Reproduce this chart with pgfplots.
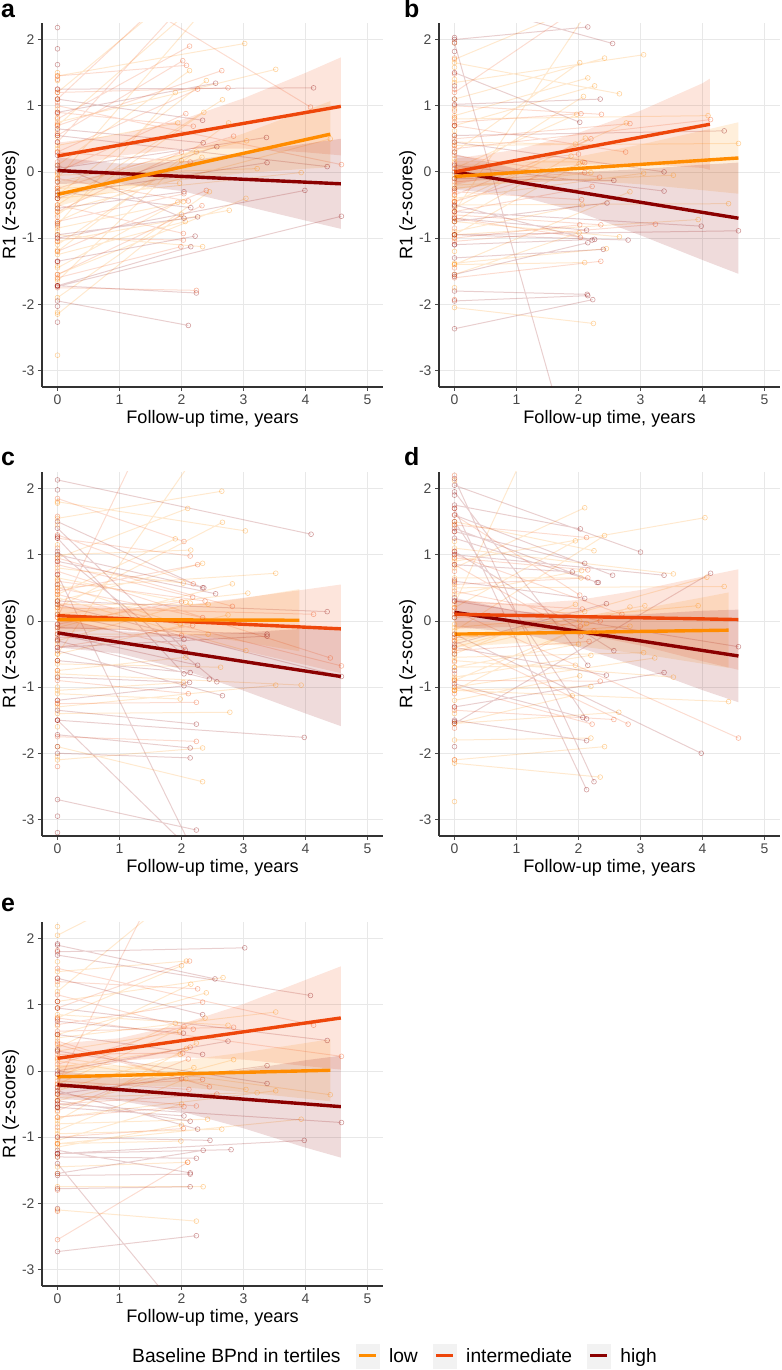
\documentclass[border=0pt]{standalone}
\usepackage{fontspec}
\setmainfont{Liberation Sans}
\usepackage{pgfplots}
\pgfplotsset{compat=1.18}
\definecolor{lowc}{RGB}{255,140,0}
\definecolor{midc}{RGB}{238,70,10}
\definecolor{highc}{RGB}{139,0,0}
\newcommand\ticksize{\fontsize{14}{16}\selectfont}
\newcommand\titlesize{\fontsize{18.2}{21}\selectfont}
\newcommand\legsize{\fontsize{19.3}{22}\selectfont}
\newcommand\panelsize{\fontsize{25}{28}\selectfont\bfseries}
\pgfplotsset{
 panel/.style={
  scale only axis, width=341bp, height=364bp, anchor=south west,
  xmin=-0.25, xmax=5.25, ymin=-3.25, ymax=2.25,
  xtick={0,1,2,3,4,5}, ytick={-3,-2,-1,0,1,2},
  xticklabels={0,1,2,3,4,5}, yticklabels={-3,-2,-1,0,1,2},
  axis x line=bottom, axis y line=left,
  axis line style={-, draw=black!80, line width=1.1bp},
  every outer x axis line/.append style={-}, every outer y axis line/.append style={-},
  tick align=outside, major tick length=4bp, tick style={black!70, line width=0.8bp},
  grid=major, major grid style={black!9, line width=0.7bp},
  xlabel={Follow-up time, years}, ylabel={R1 (z-scores)},
  tick label style={font=\ticksize, text=black!72},
  label style={font=\titlesize},
  xlabel style={at={(axis description cs:0.5,-0.088)}, anchor=center},
  ylabel style={at={(axis description cs:-0.0915,0.5)}, anchor=center, inner sep=0pt},
 },
 spag/.style={color=#1, line width=1.0bp, draw opacity=0.19, mark=o, mark size=2.4bp,
   mark options={draw opacity=0.38, line width=0.6bp}, unbounded coords=jump, forget plot},
 band/.style={fill=#1, fill opacity=0.14, draw=none, forget plot},
 reg/.style={color=#1, line width=3.4bp, no markers, forget plot},
}
\begin{document}
\begin{tikzpicture}[x=1bp,y=1bp]
\path[use as bounding box] (0bp,0bp) rectangle (782bp,1370bp);
% ---------------- panel a ----------------
\begin{axis}[panel, at={(42bp,983bp)}]
\addplot[spag=lowc] coordinates {
(0,1.45) (3.02,1.94) (nan,nan) (0,0.10) (2.13,1.53) (nan,nan) (0,0.75) (3.52,1.55) (nan,nan)
(0,-0.35) (2.40,1.38) (nan,nan) (0,-0.80) (1.90,1.20) (nan,nan) (0,-0.50) (2.66,1.09) (nan,nan)
(0,-0.65) (2.36,0.90) (nan,nan) (0,0.40) (1.94,0.74) (nan,nan) (0,-1.20) (2.76,0.74) (nan,nan)
(0,-0.60) (4.40,0.50) (nan,nan) (0,-0.15) (3.05,0.47) (nan,nan) (0,-1.10) (2.24,0.30) (nan,nan)
(0,-0.75) (2.33,0.22) (nan,nan) (0,-1.65) (2.00,0.17) (nan,nan) (0,-0.05) (3.22,0.05) (nan,nan)
(0,-0.40) (3.93,-0.01) (nan,nan) (0,-0.25) (1.97,-0.17) (nan,nan) (0,-1.90) (2.45,-0.30) (nan,nan)
(0,-1.55) (3.04,-0.40) (nan,nan) (0,-1.45) (1.94,-0.46) (nan,nan) (0,-0.85) (2.03,-0.45) (nan,nan)
(0,-1.05) (2.77,-0.58) (nan,nan) (0,-2.15) (2.00,-0.64) (nan,nan) (0,-1.25) (2.06,-0.75) (nan,nan)
(0,-0.95) (2.34,-1.13) (nan,nan) (0,-0.10) (2.50,2.60) (nan,nan) (0,0.70) (2.70,2.90) (nan,nan)
(0,1.20) (1.80,2.60) (nan,nan)
};
\addplot[spag=lowc, only marks] coordinates {(0,1.50) (0,1.38) (0,0.95) (0,0.62) (0,0.35) (0,-0.55) (0,-1.62) (0,-2.77) (0,-2.12) (0,1.10) (0,0.82) (0,0.52) (0,-0.02) (0,-0.30) (0,-0.90) (0,-1.18) (0,-1.42)};
\addplot[spag=midc] coordinates {
(0,0.80) (2.13,1.90) (nan,nan) (0,0.55) (2.02,1.68) (nan,nan) (0,1.45) (2.08,1.61) (nan,nan)
(0,0.70) (2.65,1.53) (nan,nan) (0,0.30) (2.26,1.25) (nan,nan) (0,1.20) (2.75,1.27) (nan,nan)
(0,3.30) (4.08,0.98) (nan,nan) (0,0.00) (2.07,0.88) (nan,nan) (0,0.90) (2.19,0.69) (nan,nan)
(0,-0.25) (2.84,0.54) (nan,nan) (0,1.00) (4.58,0.11) (nan,nan) (0,-0.60) (2.00,0.30) (nan,nan)
(0,0.30) (2.14,0.15) (nan,nan) (0,-0.75) (2.04,-0.33) (nan,nan) (0,-1.20) (2.40,-0.28) (nan,nan)
(0,-0.10) (2.11,-0.44) (nan,nan) (0,-1.55) (2.33,-0.51) (nan,nan) (0,-1.00) (2.03,-1.03) (nan,nan)
(0,-1.60) (1.99,-1.13) (nan,nan) (0,-1.75) (2.24,-1.79) (nan,nan) (0,-0.50) (2.03,-0.93) (nan,nan)
(0,0.45) (2.20,2.70) (nan,nan) (0,1.10) (1.60,2.50) (nan,nan)
};
\addplot[spag=midc, only marks] coordinates {(0,1.25) (0,1.05) (0,0.72) (0,0.15) (0,-0.22) (0,-0.68) (0,-1.35) (0,-1.72) (0,1.40) (0,0.88) (0,0.58) (0,-0.40) (0,-0.82) (0,-1.05)};
\addplot[spag=highc] coordinates {
(0,0.90) (2.55,1.34) (nan,nan) (0,1.25) (4.13,1.27) (nan,nan) (0,1.10) (2.34,0.78) (nan,nan)
(0,0.65) (2.35,0.44) (nan,nan) (0,0.05) (3.37,0.52) (nan,nan) (0,-0.35) (3.38,0.14) (nan,nan)
(0,0.55) (4.35,0.08) (nan,nan) (0,-0.55) (2.04,-0.30) (nan,nan) (0,-1.00) (3.99,-0.28) (nan,nan)
(0,-0.30) (2.15,-0.54) (nan,nan) (0,0.10) (2.04,-0.70) (nan,nan) (0,-0.95) (2.26,-0.68) (nan,nan)
(0,-1.35) (2.22,-0.97) (nan,nan) (0,-1.72) (2.15,-1.13) (nan,nan) (0,-1.73) (4.58,-0.67) (nan,nan)
(0,-1.72) (2.24,-1.83) (nan,nan) (0,-1.95) (2.11,-2.32) (nan,nan) (0,-0.40) (2.57,0.38) (nan,nan)
};
\addplot[spag=highc, only marks] coordinates {(0,2.18) (0,1.86) (0,1.62) (0,-2.03) (0,-2.27) (0,-1.36) (0,0.25) (0,0.45) (0,-0.15) (0,-0.78)};
\addplot[band=lowc] coordinates {(0,-0.16) (1,0.007) (2,0.274) (3,0.58) (4,0.927) (4.4,1.07) (4.4,0.07) (4,0.047) (3,-0.02) (2,-0.126) (1,-0.273) (0,-0.52)};
\addplot[band=midc] coordinates {(0,0.44) (1,0.564) (2,0.788) (3,1.112) (4,1.496) (4.57,1.73) (4.57,0.25) (4,0.296) (3,0.352) (2,0.348) (1,0.244) (0,0.04)};
\addplot[band=highc] coordinates {(0,0.22) (1,0.126) (2,0.152) (3,0.289) (4,0.425) (4.57,0.50) (4.57,-0.86) (4,-0.735) (3,-0.511) (2,-0.288) (1,-0.174) (0,-0.18)};
\addplot[reg=highc] coordinates {(0,0.02) (4.57,-0.18)};
\addplot[reg=lowc] coordinates {(0,-0.34) (4.40,0.57)};
\addplot[reg=midc] coordinates {(0,0.24) (4.57,0.99)};
\end{axis}
% ---------------- panel b ----------------
\begin{axis}[panel, at={(439bp,983bp)}]
\addplot[spag=lowc] coordinates {
(0,1.10) (2.42,1.72) (nan,nan) (0,1.35) (3.05,1.77) (nan,nan) (0,0.30) (2.02,1.65) (nan,nan)
(0,0.85) (2.15,1.42) (nan,nan) (0,0.70) (2.26,1.30) (nan,nan) (0,-0.10) (2.08,1.14) (nan,nan)
(0,1.65) (2.66,1.18) (nan,nan) (0,0.05) (1.97,0.87) (nan,nan) (0,-0.45) (2.77,0.74) (nan,nan)
(0,0.80) (4.09,0.85) (nan,nan) (0,0.40) (4.58,0.43) (nan,nan) (0,-0.55) (2.11,0.51) (nan,nan)
(0,0.45) (1.95,0.42) (nan,nan) (0,-0.75) (1.88,0.24) (nan,nan) (0,0.15) (2.07,0.15) (nan,nan)
(0,-0.95) (2.01,0.12) (nan,nan) (0,-0.25) (2.20,-0.01) (nan,nan) (0,-0.40) (3.05,-0.02) (nan,nan)
(0,-0.20) (3.53,-0.05) (nan,nan) (0,-1.40) (2.83,-0.30) (nan,nan) (0,-0.90) (2.06,-0.50) (nan,nan)
(0,-0.50) (4.42,-0.48) (nan,nan) (0,-0.95) (3.93,-0.72) (nan,nan) (0,-1.55) (2.01,-0.92) (nan,nan)
(0,-0.75) (2.66,-0.98) (nan,nan) (0,-1.38) (2.45,-1.16) (nan,nan) (0,-1.40) (2.10,-1.37) (nan,nan)
(0,-2.05) (2.24,-2.29) (nan,nan) (0,1.70) (2.30,2.60) (nan,nan) (0,-0.60) (2.20,2.50) (nan,nan)
};
\addplot[spag=lowc, only marks] coordinates {(0,1.95) (0,1.58) (0,0.55) (0,-0.05) (0,-1.20) (0,-1.75) (0,1.40) (0,0.95) (0,0.62) (0,0.20) (0,-0.35) (0,-0.68) (0,-1.00)};
\addplot[spag=midc] coordinates {
(0,0.75) (2.04,0.88) (nan,nan) (0,1.00) (2.37,0.87) (nan,nan) (0,0.50) (2.83,0.73) (nan,nan)
(0,0.35) (4.13,0.79) (nan,nan) (0,-0.35) (2.20,0.50) (nan,nan) (0,0.05) (2.00,0.27) (nan,nan)
(0,-0.45) (2.10,0.14) (nan,nan) (0,0.70) (2.76,0.30) (nan,nan) (0,-0.15) (2.10,-0.01) (nan,nan)
(0,0.25) (2.34,-0.08) (nan,nan) (0,-0.60) (2.22,-0.22) (nan,nan) (0,-0.30) (2.05,-0.42) (nan,nan)
(0,-1.00) (2.02,-0.80) (nan,nan) (0,-0.65) (2.36,-0.80) (nan,nan) (0,-1.05) (3.24,-0.79) (nan,nan)
(0,-0.70) (2.03,-0.99) (nan,nan) (0,-1.60) (2.36,-1.35) (nan,nan) (0,1.20) (1.88,2.40) (nan,nan)
};
\addplot[spag=midc, only marks] coordinates {(0,1.72) (0,1.25) (0,0.92) (0,0.40) (0,-0.28) (0,-1.45) (0,-1.93) (0,1.48) (0,0.82) (0,0.12) (0,-0.45) (0,-0.85)};
\addplot[spag=highc] coordinates {
(0,2.00) (2.15,2.19) (nan,nan) (0,2.60) (2.55,1.94) (nan,nan) (0,1.02) (2.35,1.10) (nan,nan)
(0,1.50) (2.02,0.75) (nan,nan) (0,0.55) (4.35,0.62) (nan,nan) (0,0.45) (3.38,0.00) (nan,nan)
(0,-0.10) (2.57,-0.13) (nan,nan) (0,0.10) (3.38,-0.29) (nan,nan) (0,-0.75) (2.46,-0.47) (nan,nan)
(0,-0.60) (3.98,-0.82) (nan,nan) (0,-0.95) (4.58,-0.89) (nan,nan) (0,-0.70) (2.13,-0.88) (nan,nan)
(0,-0.50) (2.22,-1.03) (nan,nan) (0,-1.10) (2.26,-1.02) (nan,nan) (0,-1.55) (2.15,-1.07) (nan,nan)
(0,-0.95) (2.80,-1.03) (nan,nan) (0,-1.30) (2.40,-1.17) (nan,nan) (0,-1.80) (2.14,-1.85) (nan,nan)
(0,-1.95) (2.15,-1.87) (nan,nan) (0,-2.37) (2.23,-1.93) (nan,nan) (0,1.95) (2.10,-5.00) (nan,nan)
};
\addplot[spag=highc, only marks] coordinates {(0,2.03) (0,1.82) (0,1.10) (0,0.00) (0,-0.25) (0,-0.52) (0,-1.58) (0,-1.10) (0,1.30) (0,0.70) (0,0.30)};
\addplot[band=lowc] coordinates {(0,0.13) (1,0.131) (2,0.232) (3,0.413) (4,0.624) (4.58,0.75) (4.58,-0.33) (4,-0.276) (3,-0.187) (2,-0.128) (1,-0.149) (0,-0.27)};
\addplot[band=midc] coordinates {(0,0.2) (1,0.335) (2,0.59) (3,0.924) (4,1.339) (4.12,1.41) (4.12,0.03) (4,0.059) (3,0.124) (2,0.11) (1,0.015) (0,-0.2)};
\addplot[band=highc] coordinates {(0,0.27) (1,0.047) (2,-0.006) (3,0.042) (4,0.109) (4.58,0.14) (4.58,-1.54) (4,-1.331) (3,-0.958) (2,-0.606) (1,-0.353) (0,-0.27)};
\addplot[reg=highc] coordinates {(0,0.0) (4.58,-0.70)};
\addplot[reg=lowc] coordinates {(0,-0.07) (4.58,0.21)};
\addplot[reg=midc] coordinates {(0,0.0) (4.12,0.72)};
\end{axis}
% ---------------- panel c ----------------
\begin{axis}[panel, at={(42bp,534bp)}]
\addplot[spag=lowc] coordinates {
(0,1.55) (2.65,1.96) (nan,nan) (0,0.95) (2.10,1.70) (nan,nan) (0,0.20) (2.66,1.49) (nan,nan)
(0,1.80) (3.03,1.36) (nan,nan) (0,0.40) (1.90,1.24) (nan,nan) (0,1.00) (2.15,1.07) (nan,nan)
(0,0.30) (2.34,0.87) (nan,nan) (0,0.50) (3.52,0.72) (nan,nan) (0,0.80) (2.03,0.57) (nan,nan)
(0,-0.10) (2.82,0.56) (nan,nan) (0,0.10) (3.07,0.42) (nan,nan) (0,0.65) (2.07,0.28) (nan,nan)
(0,-0.30) (2.14,0.27) (nan,nan) (0,0.25) (2.43,0.25) (nan,nan) (0,-0.50) (2.75,0.09) (nan,nan)
(0,0.55) (1.98,-0.05) (nan,nan) (0,-0.20) (2.43,-0.20) (nan,nan) (0,-0.75) (2.07,-0.55) (nan,nan)
(0,0.35) (3.04,-0.45) (nan,nan) (0,-0.65) (2.63,-0.70) (nan,nan) (0,-1.05) (2.03,-0.93) (nan,nan)
(0,-1.30) (3.52,-0.97) (nan,nan) (0,-0.80) (3.93,-0.97) (nan,nan) (0,-1.10) (1.98,-1.18) (nan,nan)
(0,-1.40) (2.78,-1.38) (nan,nan) (0,-2.10) (2.34,-1.92) (nan,nan) (0,-1.90) (2.34,-2.43) (nan,nan)
(0,-0.50) (2.30,2.60) (nan,nan)
};
\addplot[spag=lowc, only marks] coordinates {(0,1.78) (0,1.45) (0,0.15) (0,-0.35) (0,-1.00) (0,-1.60) (0,-2.05) (0,1.15) (0,0.62) (0,0.45) (0,-0.60) (0,-0.85) (0,-1.25)};
\addplot[spag=midc] coordinates {
(0,1.85) (2.04,1.20) (nan,nan) (0,1.25) (2.14,0.98) (nan,nan) (0,0.45) (2.26,0.85) (nan,nan)
(0,1.30) (2.19,0.56) (nan,nan) (0,0.85) (2.18,0.36) (nan,nan) (0,-0.05) (2.00,0.29) (nan,nan)
(0,0.60) (2.38,0.30) (nan,nan) (0,0.95) (2.82,0.22) (nan,nan) (0,0.20) (4.13,0.10) (nan,nan)
(0,-0.40) (2.18,-0.07) (nan,nan) (0,0.50) (2.34,0.05) (nan,nan) (0,-0.25) (2.00,-0.22) (nan,nan)
(0,0.05) (2.04,-0.40) (nan,nan) (0,0.75) (4.40,-0.56) (nan,nan) (0,0.40) (4.58,-0.68) (nan,nan)
(0,-0.90) (2.11,-1.10) (nan,nan) (0,-1.25) (2.24,-1.23) (nan,nan) (0,-1.75) (2.24,-1.82) (nan,nan)
(0,0.05) (1.20,2.40) (nan,nan)
};
\addplot[spag=midc, only marks] coordinates {(0,1.58) (0,1.10) (0,0.70) (0,-0.60) (0,-1.20) (0,-1.50) (0,-2.20) (0,0.90) (0,0.30) (0,-0.15) (0,-0.75)};
\addplot[spag=highc] coordinates {
(0,2.13) (4.09,1.31) (nan,nan) (0,1.50) (2.34,0.50) (nan,nan) (0,1.00) (2.36,0.50) (nan,nan)
(0,0.90) (2.55,0.41) (nan,nan) (0,0.30) (4.35,0.14) (nan,nan) (0,0.10) (2.04,-0.28) (nan,nan)
(0,-0.10) (3.38,-0.20) (nan,nan) (0,-0.40) (3.38,-0.23) (nan,nan) (0,1.40) (2.06,-0.44) (nan,nan)
(0,0.25) (4.58,-0.84) (nan,nan) (0,-0.20) (2.26,-0.67) (nan,nan) (0,-0.60) (2.14,-0.78) (nan,nan)
(0,1.25) (2.04,-0.80) (nan,nan) (0,-0.30) (2.45,-0.88) (nan,nan) (0,1.05) (2.57,-0.92) (nan,nan)
(0,-0.85) (2.13,-0.93) (nan,nan) (0,-1.20) (2.04,-0.98) (nan,nan) (0,-0.45) (2.66,-1.13) (nan,nan)
(0,-1.35) (2.24,-1.56) (nan,nan) (0,-1.72) (2.14,-1.92) (nan,nan) (0,-1.50) (3.98,-1.76) (nan,nan)
(0,-2.00) (2.14,-2.07) (nan,nan) (0,-2.70) (2.24,-3.16) (nan,nan) (0,-1.50) (2.30,-3.60) (nan,nan)
(0,0.70) (2.20,-3.50) (nan,nan)
};
\addplot[spag=highc, only marks] coordinates {(0,1.98) (0,1.28) (0,-2.95) (0,-3.20) (0,-1.90) (0,-0.05) (0,0.55) (0,-0.28)};
\addplot[band=lowc] coordinates {(0,0.22) (1,0.157) (2,0.215) (3,0.342) (3.9,0.48) (3.9,-0.46) (3,-0.318) (2,-0.185) (1,-0.123) (0,-0.18)};
\addplot[band=midc] coordinates {(0,0.28) (1,0.196) (2,0.232) (3,0.349) (4,0.475) (4.57,0.55) (4.57,-0.79) (4,-0.665) (3,-0.451) (2,-0.248) (1,-0.124) (0,-0.12)};
\addplot[band=highc] coordinates {(0,0.04) (1,-0.154) (2,-0.209) (3,-0.173) (4,-0.118) (4.57,-0.09) (4.57,-1.59) (4,-1.398) (3,-1.053) (2,-0.729) (1,-0.494) (0,-0.40)};
\addplot[reg=highc] coordinates {(0,-0.18) (4.57,-0.84)};
\addplot[reg=midc] coordinates {(0,0.08) (4.57,-0.12)};
\addplot[reg=lowc] coordinates {(0,0.02) (3.9,0.01)};
\end{axis}
% ---------------- panel d ----------------
\begin{axis}[panel, at={(439bp,534bp)}]
\addplot[spag=lowc] coordinates {
(0,0.80) (2.10,1.71) (nan,nan) (0,0.90) (4.04,1.56) (nan,nan) (0,0.20) (1.95,1.21) (nan,nan)
(0,-0.15) (2.42,1.29) (nan,nan) (0,1.50) (2.25,1.06) (nan,nan) (0,0.40) (2.05,0.76) (nan,nan)
(0,0.65) (2.04,0.65) (nan,nan) (0,1.10) (3.53,0.71) (nan,nan) (0,-0.40) (4.07,0.66) (nan,nan)
(0,0.50) (4.35,0.52) (nan,nan) (0,-0.50) (1.95,0.25) (nan,nan) (0,0.05) (2.10,0.14) (nan,nan)
(0,-0.90) (2.83,0.21) (nan,nan) (0,-0.30) (3.07,0.23) (nan,nan) (0,-0.10) (3.93,0.23) (nan,nan)
(0,-0.45) (2.02,0.00) (nan,nan) (0,-1.05) (2.13,-0.04) (nan,nan) (0,-0.25) (2.83,-0.08) (nan,nan)
(0,-0.70) (2.00,-0.35) (nan,nan) (0,-0.85) (2.20,-0.52) (nan,nan) (0,-0.55) (3.05,-0.48) (nan,nan)
(0,-1.00) (3.23,-0.56) (nan,nan) (0,-0.70) (1.95,-0.67) (nan,nan) (0,-1.20) (2.02,-0.83) (nan,nan)
(0,-0.60) (3.53,-0.85) (nan,nan) (0,-1.05) (2.20,-0.99) (nan,nan) (0,-1.55) (1.90,-1.13) (nan,nan)
(0,-1.05) (4.42,-1.22) (nan,nan) (0,-1.55) (2.65,-1.38) (nan,nan) (0,-1.80) (2.20,-1.77) (nan,nan)
(0,-2.10) (2.42,-1.90) (nan,nan) (0,-2.15) (2.35,-2.36) (nan,nan) (0,0.25) (2.20,4.70) (nan,nan)
};
\addplot[spag=lowc, only marks] coordinates {(0,2.12) (0,1.20) (0,0.95) (0,-0.05) (0,-1.40) (0,-2.73) (0,1.45) (0,0.58) (0,-0.20) (0,-0.88)};
\addplot[spag=midc] coordinates {
(0,1.45) (2.13,1.26) (nan,nan) (0,0.95) (2.15,0.77) (nan,nan) (0,0.55) (2.15,0.65) (nan,nan)
(0,1.60) (2.02,0.39) (nan,nan) (0,0.30) (2.06,0.18) (nan,nan) (0,1.00) (2.70,0.10) (nan,nan)
(0,0.10) (2.03,-0.08) (nan,nan) (0,0.45) (2.35,0.00) (nan,nan) (0,-0.25) (2.25,-0.15) (nan,nan)
(0,0.85) (2.04,-0.23) (nan,nan) (0,-0.45) (2.17,-0.31) (nan,nan) (0,-0.90) (2.35,-0.91) (nan,nan)
(0,-1.35) (2.57,-1.49) (nan,nan) (0,-1.00) (2.22,-1.56) (nan,nan) (0,-0.30) (2.80,-1.56) (nan,nan)
(0,0.15) (4.58,-1.77) (nan,nan)
};
\addplot[spag=midc, only marks] coordinates {(0,2.20) (0,1.70) (0,1.35) (0,0.62) (0,-0.62) (0,-1.30) (0,-1.62) (0,-2.10) (0,1.05) (0,0.75) (0,0.20) (0,-0.38) (0,-0.80) (0,-1.10)};
\addplot[spag=highc] coordinates {
(0,1.75) (2.03,1.39) (nan,nan) (0,2.05) (3.00,1.04) (nan,nan) (0,1.35) (2.10,0.87) (nan,nan)
(0,0.85) (1.90,0.74) (nan,nan) (0,1.40) (2.30,0.58) (nan,nan) (0,1.25) (2.32,0.58) (nan,nan)
(0,1.60) (2.55,0.69) (nan,nan) (0,1.00) (3.38,0.69) (nan,nan) (0,-1.55) (4.13,0.72) (nan,nan)
(0,0.60) (2.10,0.34) (nan,nan) (0,-0.35) (2.45,0.26) (nan,nan) (0,1.05) (2.57,-0.45) (nan,nan)
(0,0.30) (4.58,-0.39) (nan,nan) (0,1.95) (2.15,-0.67) (nan,nan) (0,-0.40) (2.45,-0.82) (nan,nan)
(0,-1.30) (3.38,-0.78) (nan,nan) (0,-0.95) (2.07,-1.46) (nan,nan) (0,1.50) (2.13,-1.48) (nan,nan)
(0,-1.50) (2.13,-1.81) (nan,nan) (0,-0.20) (3.98,-2.00) (nan,nan) (0,2.15) (2.25,-2.43) (nan,nan)
(0,1.70) (2.13,-2.55) (nan,nan)
};
\addplot[spag=highc, only marks] coordinates {(0,1.90) (0,0.35) (0,-0.75) (0,-1.90) (0,-1.52) (0,0.05) (0,-0.50)};
\addplot[band=lowc] coordinates {(0,0.0) (1,-0.036) (2,0.037) (3,0.181) (4,0.354) (4.42,0.43) (4.42,-0.71) (4,-0.646) (3,-0.499) (2,-0.383) (1,-0.336) (0,-0.4)};
\addplot[band=midc] coordinates {(0,0.32) (1,0.253) (2,0.315) (3,0.468) (4,0.67) (4.58,0.78) (4.58,-0.74) (4,-0.61) (3,-0.372) (2,-0.185) (1,-0.087) (0,-0.12)};
\addplot[band=highc] coordinates {(0,0.35) (1,0.146) (2,0.082) (3,0.098) (4,0.154) (4.58,0.17) (4.58,-1.23) (4,-1.046) (3,-0.702) (2,-0.398) (1,-0.174) (0,-0.09)};
\addplot[reg=highc] coordinates {(0,0.13) (4.58,-0.53)};
\addplot[reg=lowc] coordinates {(0,-0.2) (4.42,-0.14)};
\addplot[reg=midc] coordinates {(0,0.1) (4.58,0.02)};
\end{axis}
% ---------------- panel e ----------------
\begin{axis}[panel, at={(42bp,84bp)},
  legend style={at={(axis description cs:1.022,-0.192)}, anchor=center, draw=none, fill=none,
    font=\legsize, legend columns=-1,
    /tikz/every even column/.append style={column sep=13bp},
    /tikz/every odd column/.append style={column sep=8bp}},
  legend image code/.code={\fill[black!5] (0bp,-12bp) rectangle (23bp,12bp);
    \draw[#1, line width=3.2bp] (3bp,0bp) -- (20bp,0bp);},
]
\addplot[spag=lowc] coordinates {
(0,1.50) (2.08,1.66) (nan,nan) (0,0.80) (2.00,1.59) (nan,nan) (0,1.05) (2.67,1.41) (nan,nan)
(0,0.35) (2.15,1.31) (nan,nan) (0,0.55) (2.40,1.18) (nan,nan) (0,-0.20) (2.38,0.80) (nan,nan)
(0,0.50) (3.52,0.89) (nan,nan) (0,-0.10) (1.90,0.72) (nan,nan) (0,0.30) (1.97,0.59) (nan,nan)
(0,0.85) (2.75,0.69) (nan,nan) (0,-0.55) (2.84,0.17) (nan,nan) (0,-0.30) (1.98,0.25) (nan,nan)
(0,0.05) (2.08,0.34) (nan,nan) (0,-0.75) (2.24,0.42) (nan,nan) (0,-0.45) (2.20,0.05) (nan,nan)
(0,-0.90) (2.07,-0.12) (nan,nan) (0,0.15) (3.04,-0.28) (nan,nan) (0,-0.70) (3.52,-0.30) (nan,nan)
(0,-0.40) (3.22,-0.33) (nan,nan) (0,0.20) (4.40,-0.36) (nan,nan) (0,-1.05) (2.00,-0.50) (nan,nan)
(0,-0.80) (2.42,-0.73) (nan,nan) (0,-1.10) (3.93,-0.73) (nan,nan) (0,-1.15) (2.00,-0.82) (nan,nan)
(0,-0.95) (2.65,-0.88) (nan,nan) (0,-1.10) (1.99,-1.06) (nan,nan) (0,-1.45) (2.10,-1.38) (nan,nan)
(0,-1.75) (2.35,-1.75) (nan,nan) (0,-2.10) (2.24,-2.27) (nan,nan) (0,2.05) (2.00,3.00) (nan,nan)
(0,1.20) (2.60,3.20) (nan,nan)
};
\addplot[spag=lowc, only marks] coordinates {(0,2.18) (0,1.65) (0,0.95) (0,-0.35) (0,-1.55) (0,1.30) (0,0.68) (0,0.42) (0,-0.62) (0,-1.30)};
\addplot[spag=midc] coordinates {
(0,0.95) (2.13,1.66) (nan,nan) (0,1.35) (2.26,1.24) (nan,nan) (0,0.70) (2.34,1.04) (nan,nan)
(0,0.10) (2.04,0.67) (nan,nan) (0,1.15) (2.19,0.63) (nan,nan) (0,0.60) (2.84,0.66) (nan,nan)
(0,1.55) (4.13,0.69) (nan,nan) (0,0.80) (4.58,0.22) (nan,nan) (0,0.25) (2.02,0.27) (nan,nan)
(0,-0.05) (2.14,0.36) (nan,nan) (0,-0.60) (2.11,0.18) (nan,nan) (0,0.45) (2.00,-0.12) (nan,nan)
(0,-0.25) (2.34,-0.13) (nan,nan) (0,0.40) (2.45,-0.24) (nan,nan) (0,-0.50) (2.57,-0.35) (nan,nan)
(0,-0.15) (2.12,-0.28) (nan,nan) (0,-0.70) (2.04,-0.54) (nan,nan) (0,-0.35) (2.24,-0.53) (nan,nan)
(0,-1.00) (2.03,-0.87) (nan,nan) (0,-2.55) (2.10,-1.38) (nan,nan) (0,-0.20) (1.50,2.60) (nan,nan)
};
\addplot[spag=midc, only marks] coordinates {(0,1.82) (0,1.40) (0,0.55) (0,-0.45) (0,-1.25) (0,-1.80) (0,-2.12) (0,1.05) (0,0.78) (0,0.18) (0,-0.85) (0,-1.10)};
\addplot[spag=highc] coordinates {
(0,1.80) (3.02,1.86) (nan,nan) (0,1.90) (2.54,1.39) (nan,nan) (0,1.75) (4.08,1.14) (nan,nan)
(0,1.40) (2.34,0.85) (nan,nan) (0,0.75) (2.03,0.57) (nan,nan) (0,0.95) (4.35,0.46) (nan,nan)
(0,0.00) (2.75,0.45) (nan,nan) (0,0.55) (2.34,0.25) (nan,nan) (0,-0.35) (3.38,0.08) (nan,nan)
(0,0.30) (3.38,-0.19) (nan,nan) (0,-0.55) (2.04,-0.68) (nan,nan) (0,-0.45) (2.14,-0.76) (nan,nan)
(0,-0.50) (4.58,-0.78) (nan,nan) (0,-0.30) (2.26,-0.88) (nan,nan) (0,-1.00) (2.46,-1.05) (nan,nan)
(0,-1.25) (3.98,-1.05) (nan,nan) (0,-1.55) (2.35,-1.20) (nan,nan) (0,-1.25) (2.80,-1.19) (nan,nan)
(0,-1.30) (2.24,-1.32) (nan,nan) (0,-1.20) (2.14,-1.54) (nan,nan) (0,-1.58) (2.14,-1.56) (nan,nan)
(0,-1.78) (2.14,-1.75) (nan,nan) (0,-2.73) (2.24,-2.49) (nan,nan) (0,-1.40) (2.20,-3.90) (nan,nan)
};
\addplot[spag=highc, only marks] coordinates {(0,1.92) (0,1.05) (0,-0.55) (0,-0.05) (0,-2.08) (0,0.32) (0,-0.25)};
\addplot[band=lowc] coordinates {(0,0.09) (1,0.073) (2,0.155) (3,0.278) (4,0.421) (4.4,0.48) (4.4,-0.46) (4,-0.419) (3,-0.322) (2,-0.245) (1,-0.207) (0,-0.27)};
\addplot[band=midc] coordinates {(0,0.41) (1,0.494) (2,0.707) (3,1.011) (4,1.374) (4.57,1.58) (4.57,0.02) (4,0.074) (3,0.171) (2,0.207) (1,0.154) (0,-0.03)};
\addplot[band=highc] coordinates {(0,0.01) (1,-0.112) (2,-0.094) (3,0.013) (4,0.161) (4.57,0.23) (4.57,-1.31) (4,-1.159) (3,-0.867) (2,-0.614) (1,-0.452) (0,-0.43)};
\addplot[reg=highc] coordinates {(0,-0.21) (4.57,-0.54)};
\addplot[reg=lowc] coordinates {(0,-0.09) (4.4,0.01)};
\addplot[reg=midc] coordinates {(0,0.19) (4.57,0.80)};
\addlegendimage{empty legend}
\addlegendentry{Baseline BPnd in tertiles}
\addlegendimage{lowc}
\addlegendentry{low}
\addlegendimage{midc}
\addlegendentry{intermediate}
\addlegendimage{highc}
\addlegendentry{high}
\end{axis}
% panel letters
\node[anchor=base west, inner sep=0pt, font=\panelsize] at (1bp,1352bp) {a};
\node[anchor=base west, inner sep=0pt, font=\panelsize] at (404bp,1352bp) {b};
\node[anchor=base west, inner sep=0pt, font=\panelsize] at (1bp,904bp) {c};
\node[anchor=base west, inner sep=0pt, font=\panelsize] at (404bp,904bp) {d};
\node[anchor=base west, inner sep=0pt, font=\panelsize] at (1bp,458bp) {e};
\end{tikzpicture}
\end{document}
